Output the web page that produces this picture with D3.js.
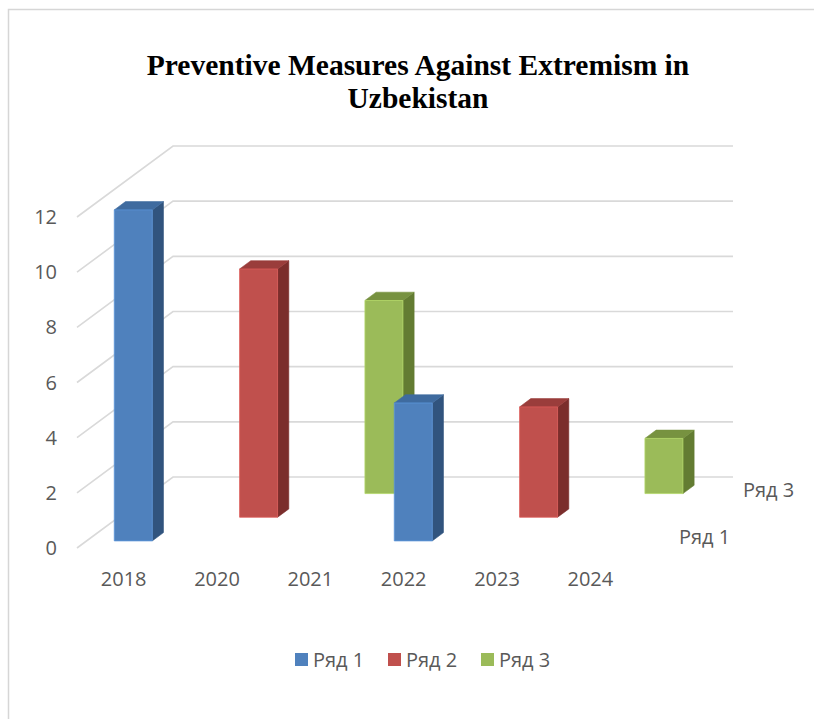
<!DOCTYPE html>
<html>
<head>
<meta charset="utf-8">
<script src="https://cdn.jsdelivr.net/npm/d3@7"></script>
<style>
  html, body { margin: 0; padding: 0; background: #fff; }
  svg { display: block; }
</style>
</head>
<body>
<svg id="chart" width="814" height="719"></svg>
<script>
// Categories, series and values of the 3-D column chart
const categories = ["2018", "2020", "2021", "2022", "2023", "2024"];
const seriesNames = ["Ряд 1", "Ряд 2", "Ряд 3"];
const row1 = [12, null, null, 5, null, null];
const row2 = [null, 9, null, null, 4, null];
const row3 = [null, null, 7, null, null, 2];
const yTicks = [0, 2, 4, 6, 8, 10, 12];
const depthLabels = ["Ряд 1", "Ряд 3"];
const titleLines = ["Preventive Measures Against Extremism in", "Uzbekistan"];

const seriesValues = [row1, row2, row3];

// Face colours per series: front, top, side
const palette = [
  { front: "#4f81bd", top: "#3f6b9f", side: "#31547e" },
  { front: "#c0504d", top: "#9a3d3b", side: "#7b2e2c" },
  { front: "#9bbb59", top: "#779240", side: "#637c32" }
];

const svg = d3.select("#chart");
const font = "'Open Sans', 'Noto Sans', sans-serif";
const textGrey = "#595959";
const gridGrey = "#d9d9d9";
const labelSize = 20;

// Chart frame
svg.append("rect")
  .attr("x", 8.5).attr("y", 9.5)
  .attr("width", 900).attr("height", 800)
  .attr("fill", "none").attr("stroke", "#d6d6d6").attr("stroke-width", 1.5);

// Front-plane scales
const x = d3.scaleBand().domain(categories).range([77, 637])
  .paddingInner(0.593).paddingOuter(0.2965);
const y = d3.scaleLinear().domain([0, 12]).range([548, 217]);
// Depth: series rows projected obliquely (up and to the right)
const z = d3.scaleLinear().domain([0, seriesNames.length]).range([0, 1]);
const depthVec = [96, -71];
const proj = (px, py, d) => [px + z(d) * depthVec[0], py + z(d) * depthVec[1]];

const depthTotal = seriesNames.length;

// Gridlines: left wall diagonals + back wall horizontals
const grid = svg.append("g").attr("stroke", gridGrey).attr("stroke-width", 1.6).attr("fill", "none");
yTicks.forEach(t => {
  const p0 = [x.range()[0], y(t)];
  const p1 = proj(x.range()[0], y(t), depthTotal);
  const p2 = proj(x.range()[1], y(t), depthTotal);
  grid.append("path").attr("d", d3.line()([p0, p1, p2]));
});

// Value axis labels
svg.append("g").selectAll("text").data(yTicks).join("text")
  .attr("x", 57).attr("y", d => y(d))
  .attr("dy", "0.35em")
  .attr("text-anchor", "end")
  .attr("font-family", font).attr("font-size", labelSize).attr("fill", textGrey)
  .text(d => d);

// Category labels
svg.append("g").selectAll("text").data(categories).join("text")
  .attr("x", d => x(d) + x.bandwidth() / 2).attr("y", 579)
  .attr("dy", "0.35em")
  .attr("text-anchor", "middle")
  .attr("font-family", font).attr("font-size", labelSize).attr("fill", textGrey)
  .text(d => d);

// Series (depth) axis labels
const depthIdx = { "Ряд 1": 0, "Ряд 2": 1, "Ряд 3": 2 };
svg.append("g").selectAll("text").data(depthLabels).join("text")
  .attr("x", d => proj(x.range()[1], y(0), depthIdx[d] + 0.5)[0] + 26)
  .attr("y", d => proj(x.range()[1], y(0), depthIdx[d] + 0.5)[1] + 1)
  .attr("dy", "0.35em")
  .attr("font-family", font).attr("font-size", labelSize).attr("fill", textGrey)
  .text(d => d);

// Bars: back rows first so front rows overlap them
const barFront = 0.3, barBack = 0.65;
const bars = svg.append("g");
for (let s = seriesNames.length - 1; s >= 0; s--) {
  const col = palette[s];
  seriesValues[s].forEach((v, i) => {
    if (v == null) return;
    const x0 = x(categories[i]), x1 = x0 + x.bandwidth();
    const yb = y(0), yt = y(v);
    const df = s + barFront, db = s + barBack;
    const F = [proj(x0, yb, df), proj(x1, yb, df), proj(x1, yt, df), proj(x0, yt, df)];
    const T = [proj(x0, yt, df), proj(x1, yt, df), proj(x1, yt, db), proj(x0, yt, db)];
    const S = [proj(x1, yb, df), proj(x1, yb, db), proj(x1, yt, db), proj(x1, yt, df)];
    const poly = pts => "M" + pts.map(p => p.join(",")).join("L") + "Z";
    bars.append("path").attr("d", poly(S)).attr("fill", col.side)
      .attr("stroke", col.side).attr("stroke-width", 0.6).attr("stroke-linejoin", "round");
    bars.append("path").attr("d", poly(T)).attr("fill", col.top)
      .attr("stroke", col.top).attr("stroke-width", 0.6).attr("stroke-linejoin", "round");
    bars.append("path").attr("d", poly(F)).attr("fill", col.front)
      .attr("stroke", d3.color(col.front).brighter(0.4)).attr("stroke-width", 0.8);
  });
}

// Title
svg.append("g").selectAll("text").data(titleLines).join("text")
  .attr("x", 418).attr("y", (d, i) => 75 + i * 33)
  .attr("text-anchor", "middle")
  .attr("font-family", "'Liberation Serif', 'Times New Roman', serif")
  .attr("font-weight", "bold").attr("font-size", 29.5).attr("fill", "#000")
  .text(d => d);

// Legend
const legendX = [295, 388, 481];
const legend = svg.append("g").selectAll("g").data(seriesNames).join("g")
  .attr("transform", (d, i) => `translate(${legendX[i]},660)`);
legend.append("rect").attr("x", 0).attr("y", -7).attr("width", 13).attr("height", 13)
  .attr("fill", (d, i) => palette[i].front);
legend.append("text").attr("x", 18).attr("y", 0).attr("dy", "0.35em")
  .attr("font-family", font).attr("font-size", labelSize).attr("fill", textGrey)
  .text(d => d);
</script>
</body>
</html>
